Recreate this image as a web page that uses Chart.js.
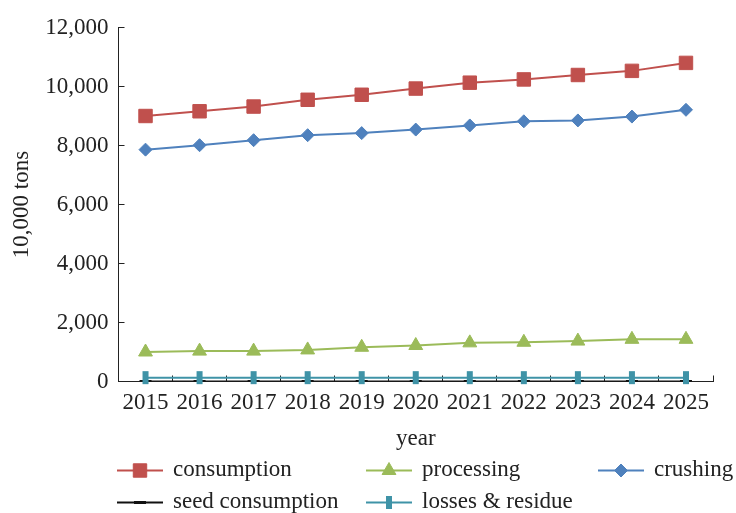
<!DOCTYPE html>
<html>
<head>
<meta charset="utf-8">
<script src="https://cdn.jsdelivr.net/npm/chart.js"></script>
<style>
  html, body { margin: 0; padding: 0; background: #fff; }
  #wrap { width: 736px; height: 513px; }
</style>
</head>
<body>
<div id="wrap"><canvas id="chart" width="736" height="513"></canvas></div>
<script>
// Años y series (10.000 t)
const years = ['2015', '2016', '2017', '2018', '2019', '2020', '2021', '2022', '2023', '2024', '2025'];
const consumption = [9000, 9160, 9320, 9550, 9720, 9930, 10130, 10240, 10390, 10530, 10800];
const processing = [1000, 1030, 1030, 1070, 1160, 1220, 1310, 1330, 1370, 1430, 1430];
const crushing = [7860, 8010, 8180, 8350, 8420, 8540, 8680, 8820, 8850, 8980, 9210];
const seedConsumption = [0, 0, 0, 0, 0, 0, 0, 0, 0, 0, 0];
const lossesResidue = [130, 130, 130, 130, 130, 130, 130, 130, 130, 130, 130];
const yTicks = [0, 2000, 4000, 6000, 8000, 10000, 12000];

const FONT = 'Liberation Serif';
const AXIS = '#222';

// Leyenda en dos filas con columnas fijas
const legendSlots = [
  { x: 117, y: 470.5 }, { x: 366, y: 470.5 }, { x: 598, y: 470.5 },
  { x: 117, y: 502.5 }, { x: 366, y: 502.5 }
];

function drawMarker(ctx, ds, x, y) {
  const style = ds.pointStyle;
  const r = ds.pointRadius;
  ctx.save();
  ctx.fillStyle = ds.pointBackgroundColor;
  ctx.strokeStyle = ds.pointBorderColor;
  ctx.lineWidth = ds.pointBorderWidth;
  ctx.beginPath();
  if (style === 'rect') {
    const s = r * Math.SQRT1_2;
    ctx.rect(x - s, y - s, 2 * s, 2 * s);
    ctx.fill(); ctx.stroke();
  } else if (style === 'rectRot') {
    ctx.moveTo(x, y - r); ctx.lineTo(x + r, y); ctx.lineTo(x, y + r); ctx.lineTo(x - r, y);
    ctx.closePath(); ctx.fill(); ctx.stroke();
  } else if (style === 'triangle') {
    for (let i = 0; i < 3; i++) {
      const a = i * 2 * Math.PI / 3;
      const px = x + Math.sin(a) * r, py = y - Math.cos(a) * r;
      i ? ctx.lineTo(px, py) : ctx.moveTo(px, py);
    }
    ctx.closePath(); ctx.fill(); ctx.stroke();
  } else if (style === 'line') {
    if (ds.pointRotation === 90) {
      ctx.moveTo(x, y - r); ctx.lineTo(x, y + r);
    } else {
      ctx.moveTo(x - r, y); ctx.lineTo(x + r, y);
    }
    ctx.stroke();
  }
  ctx.restore();
}

const legendPlugin = {
  id: 'fixedLegend',
  afterDraw(chart) {
    const ctx = chart.ctx;
    chart.data.datasets.forEach((ds, i) => {
      const slot = legendSlots[i];
      ctx.save();
      ctx.strokeStyle = ds.borderColor;
      ctx.lineWidth = ds.borderWidth;
      ctx.beginPath();
      ctx.moveTo(slot.x, slot.y);
      ctx.lineTo(slot.x + 46, slot.y);
      ctx.stroke();
      ctx.restore();
      drawMarker(ctx, ds, slot.x + 23, slot.y);
      ctx.save();
      ctx.fillStyle = '#222';
      ctx.font = '23px "' + FONT + '"';
      ctx.textBaseline = 'middle';
      ctx.textAlign = 'left';
      ctx.fillText(ds.label, slot.x + 56, slot.y - 1);
      ctx.restore();
    });
  }
};

function serie(label, data, color, style, radius, extra) {
  return Object.assign({
    label: label,
    data: data,
    borderColor: color,
    backgroundColor: color,
    borderWidth: 2,
    tension: 0,
    pointStyle: style,
    pointRadius: radius,
    pointHoverRadius: radius,
    pointBackgroundColor: color,
    pointBorderColor: color,
    pointBorderWidth: 1,
    pointRotation: 0
  }, extra || {});
}

new Chart(document.getElementById('chart'), {
  type: 'line',
  data: {
    labels: years,
    datasets: [
      serie('consumption', consumption, '#C0504D', 'rect', 9.5, { order: 1 }),
      serie('processing', processing, '#9BBB59', 'triangle', 8, { order: 2 }),
      serie('crushing', crushing, '#4F81BD', 'rectRot', 6.5, { order: 3 }),
      // la serie de semilla queda por debajo del resto
      serie('seed consumption', seedConsumption, '#111111', 'line', 6, { pointBorderWidth: 3, order: 10 }),
      serie('losses & residue', lossesResidue, '#3F93A7', 'line', 6.5, { pointBorderWidth: 6, pointRotation: 90, clip: false, order: 4 })
    ]
  },
  options: {
    responsive: false,
    animation: false,
    layout: { padding: { top: 26, right: 23, left: 0, bottom: 60 } },
    plugins: {
      legend: { display: false },
      tooltip: { enabled: false }
    },
    scales: {
      x: {
        offset: true,
        afterFit: (scale) => { scale.height = 71.5; },
        grid: { offset: true, drawOnChartArea: false, tickLength: -6, color: AXIS },
        border: { color: AXIS, width: 1 },
        ticks: { color: '#222', padding: 14, maxRotation: 0, autoSkip: false, font: { family: FONT, size: 23 } },
        title: { display: true, text: 'year', color: '#222', padding: { top: 0, bottom: 0 }, font: { family: FONT, size: 23 } }
      },
      y: {
        min: 0,
        max: 12000,
        afterFit: (scale) => { scale.width = 118.5; },
        afterBuildTicks: (scale) => { scale.ticks = yTicks.map(v => ({ value: v })); },
        grid: { drawOnChartArea: false, tickLength: -6, color: AXIS },
        border: { color: AXIS, width: 1 },
        ticks: {
          color: '#222',
          padding: 16,
          font: { family: FONT, size: 23, lineHeight: 1 },
          callback: (v) => v.toLocaleString('en-US')
        },
        title: { display: true, text: '10,000 tons', color: '#222', padding: { top: 8, bottom: 0 }, font: { family: FONT, size: 23 } }
      }
    }
  },
  plugins: [legendPlugin]
});
</script>
</body>
</html>
